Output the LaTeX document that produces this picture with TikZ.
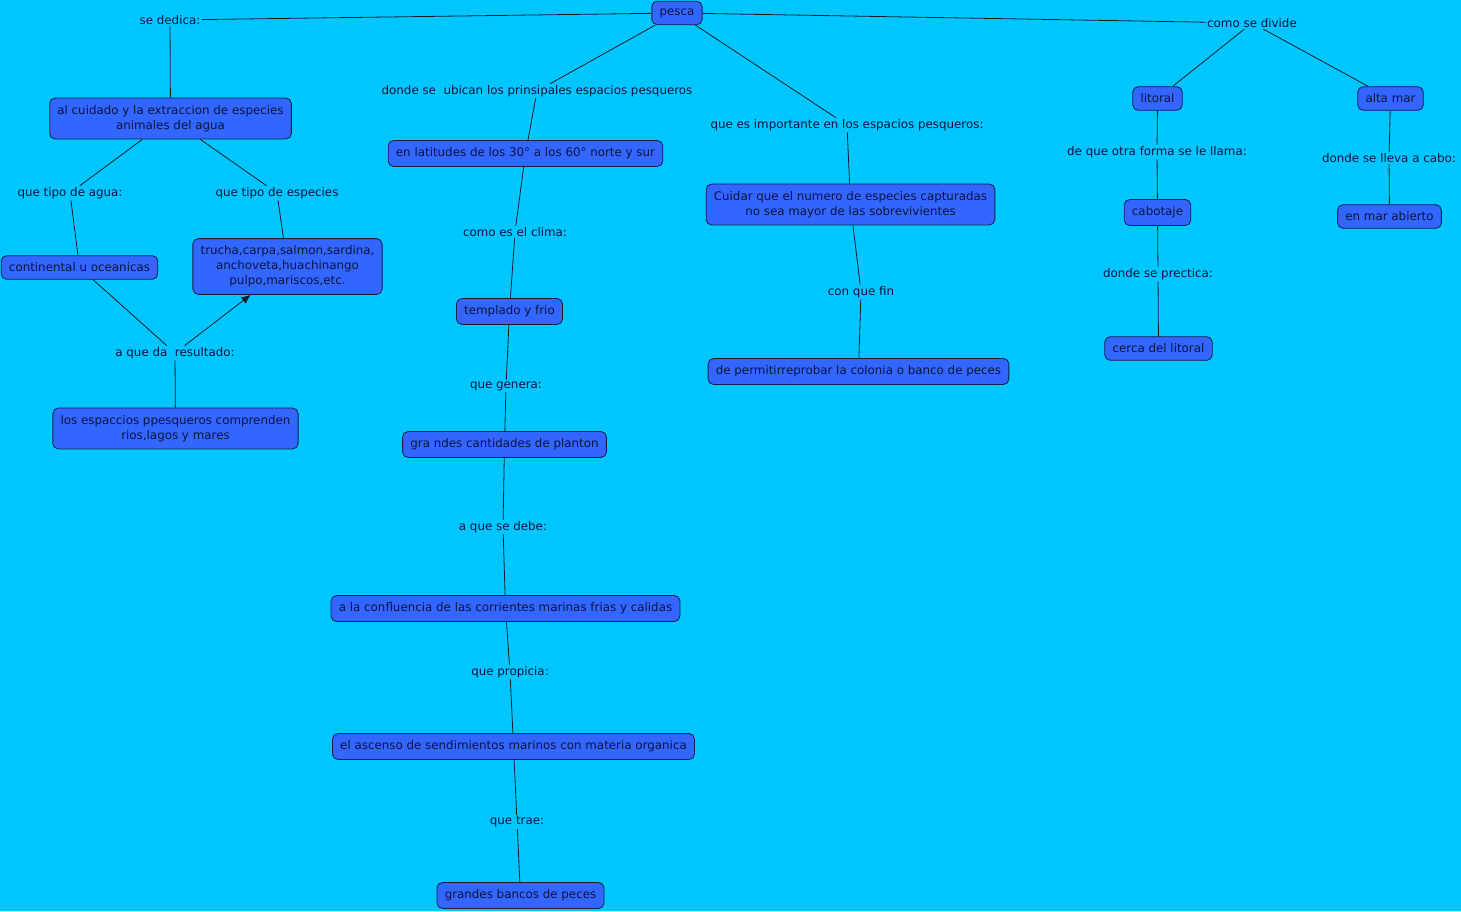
\documentclass[tikz,border=0pt]{standalone}
\usepackage{fontspec}
\setmainfont{DejaVu Sans}
\usetikzlibrary{arrows.meta}

\begin{document}
\begin{tikzpicture}[x=0.75pt,y=-0.75pt,
    concept/.style={draw=boxline,fill=boxblue,rounded corners=4pt,line width=0.6pt,
        text=inkblue,align=center,inner xsep=5.8pt,inner ysep=5.4pt,
        font=\fontsize{8.9}{11.2}\selectfont},
    phrase/.style={text=inkblue,inner sep=1pt,font=\fontsize{8.9}{11}\selectfont},
    link/.style={draw=linegray,line width=0.6pt}]
    \definecolor{seablue}{RGB}{0,198,255}
    \definecolor{boxblue}{RGB}{51,102,255}
    \definecolor{boxline}{RGB}{20,30,70}
    \definecolor{inkblue}{RGB}{10,20,60}
    \definecolor{linegray}{RGB}{20,30,40}

    % background
    \fill[seablue] (0,0) rectangle (1461,911);
    \useasboundingbox (0,0) rectangle (1461,911);

    % root
    \node[concept] (pesca) at (677,13) {pesca};

    % left branch
    \node[phrase] (dedica) at (170,20) {se dedica:};
    \node[concept] (cuidado) at (170.5,118.5) {al cuidado y la extraccion de especies\\animales del agua};
    \node[phrase] (tagua) at (70,193) {que tipo de agua:};
    \node[phrase] (tespecies) at (277,193) {que tipo de especies};
    \node[concept] (contin) at (79.5,267.5) {continental u oceanicas};
    \node[concept] (trucha) at (287.5,266.5) {trucha,carpa,salmon,sardina,\\anchoveta,huachinango\\pulpo,mariscos,etc.};
    \node[phrase] (resultado) at (175,353) {a que da~~resultado:};
    \node[concept] (espacios) at (175.5,428.5) {los espaccios ppesqueros comprenden\\rios,lagos y mares};

    % middle branch
    \node[phrase] (ubican) at (537,91) {donde se~~ubican los prinsipales espacios pesqueros};
    \node[concept] (latitud) at (525.5,153.5) {en latitudes de los 30° a los 60° norte y sur};
    \node[phrase] (clima) at (515,232) {como es el clima:};
    \node[concept] (templado) at (509.5,311.5) {templado y frio};
    \node[phrase] (genera) at (506,386) {que genera:};
    \node[concept] (planton) at (504.5,444.5) {gra ndes cantidades de planton};
    \node[phrase] (debe) at (503,527) {a que se debe:};
    \node[concept] (conflu) at (505.5,608.5) {a la confluencia de las corrientes marinas frias y calidas};
    \node[phrase] (propicia) at (510,672) {que propicia:};
    \node[concept] (ascenso) at (513.5,746.5) {el ascenso de sendimientos marinos con materia organica};
    \node[phrase] (trae) at (517,822) {que trae:};
    \node[concept] (bancos) at (520.5,895.5) {grandes bancos de peces};

    \node[phrase] (importante) at (847,125) {que es importante en los espacios pesqueros:};
    \node[concept] (cuidar) at (850.5,204.5) {Cuidar que el numero de especies capturadas\\no sea mayor de las sobrevivientes};
    \node[phrase] (fin) at (861,292) {con que fin};
    \node[concept] (permitir) at (858.5,371.5) {de permitirreprobar la colonia o banco de peces};

    % right branch
    \node[phrase] (divide) at (1252,23) {como se divide};
    \node[concept] (litoral) at (1157.5,98.5) {litoral};
    \node[concept] (altamar) at (1390.5,98.5) {alta mar};
    \node[phrase] (otraforma) at (1157,152) {de que otra forma se le llama:};
    \node[concept] (cabotaje) at (1157.5,212.5) {cabotaje};
    \node[phrase] (practica) at (1158,274) {donde se prectica:};
    \node[concept] (cerca) at (1158.5,348.5) {cerca del litoral};
    \node[phrase] (llevacabo) at (1389,158) {donde se lleva a cabo:};
    \node[concept] (abierto) at (1389.5,216.5) {en mar abierto};

    % links
    \foreach \a/\b in {pesca/dedica,pesca/ubican,pesca/importante,pesca/divide,
        dedica/cuidado,cuidado/tagua,cuidado/tespecies,tagua/contin,tespecies/trucha,
        contin/resultado,resultado/espacios,
        ubican/latitud,latitud/clima,clima/templado,templado/genera,genera/planton,
        planton/debe,debe/conflu,conflu/propicia,propicia/ascenso,ascenso/trae,trae/bancos,
        importante/cuidar,cuidar/fin,fin/permitir,
        divide/litoral,divide/altamar,litoral/otraforma,otraforma/cabotaje,
        cabotaje/practica,practica/cerca,altamar/llevacabo,llevacabo/abierto}
        \draw[link] (\a) -- (\b);
    \draw[link,-{Latex[length=7pt,width=6pt]}] (resultado) -- (trucha);
\end{tikzpicture}
\end{document}
